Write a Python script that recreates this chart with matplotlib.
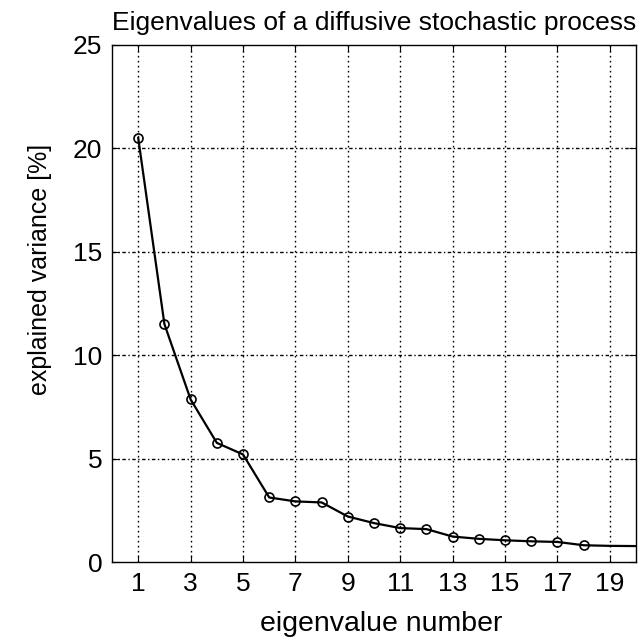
from matplotlib import pyplot as plt
import numpy as np

plt.rcParams['font.family'] = ['Liberation Sans', 'DejaVu Sans']

# eigenvalue spectrum
eig_number = [1, 2, 3, 4, 5, 6, 7, 8, 9, 10, 11, 12, 13, 14, 15, 16, 17, 18, 19, 20]
explained = [20.5, 11.5, 7.86, 5.76, 5.2, 3.12, 2.93, 2.88, 2.2, 1.88,
             1.64, 1.59, 1.23, 1.12, 1.05, 1.0, 0.97, 0.81, 0.78, 0.77]
xticks = [1, 3, 5, 7, 9, 11, 13, 15, 17, 19]
yticks = [0, 5, 10, 15, 20, 25]

fig = plt.figure(figsize=(6.42, 6.39), dpi=100)
ax = fig.add_axes([0.1745, 0.1205, 0.8162, 0.8091])

ax.plot(eig_number, explained, color='k', lw=1.6,
        marker='o', ms=6.5, mfc='none', mec='k', mew=1.2,
        markevery=slice(0, 18), zorder=3)

ax.set_xlim(0, 20)
ax.set_ylim(0, 25)
ax.set_xticks(xticks)
ax.set_yticks(yticks)

# matlab-like grid: dotted verticals, dash-dot horizontals
for x in xticks:
    ax.axvline(x, color='k', lw=1.0, ls=(0, (1.2, 2.4)), zorder=1)
for y in yticks[1:-1]:
    ax.axhline(y, color='k', lw=1.0, ls=(0, (2.5, 1.8, 1.0, 1.8)), zorder=1)

ax.tick_params(direction='in', top=True, right=True, length=5, width=0.8,
               labelsize=19, pad=7)
for sp in ax.spines.values():
    sp.set_linewidth(1.0)

ax.set_title('Eigenvalues of a diffusive stochastic process', fontsize=19, pad=11)
ax.set_xlabel('eigenvalue number', fontsize=20.5)
ax.set_ylabel('explained variance [%]', fontsize=18)
ax.xaxis.set_label_coords(0.513, -0.095)
ax.yaxis.set_label_coords(-0.115, 0.565)

fig.savefig('out.png', dpi=100)
